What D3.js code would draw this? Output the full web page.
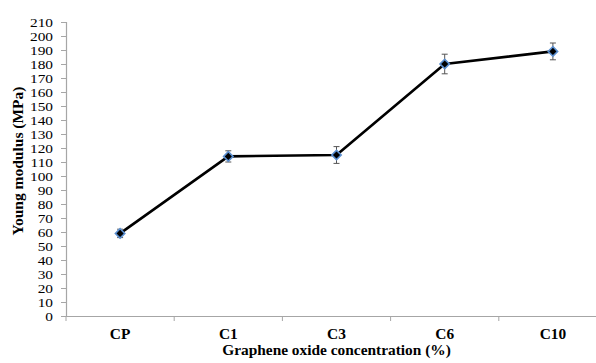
<!DOCTYPE html>
<html>
<head>
<meta charset="utf-8">
<script src="https://cdn.jsdelivr.net/npm/d3@7"></script>
<style>
  html, body { margin: 0; padding: 0; background: #fff; }
  svg { display: block; }
  svg text { font-family: "Liberation Serif", "Times New Roman", serif !important; fill: #000; }
</style>
</head>
<body>
<svg id="chart" width="596" height="363"></svg>
<script>
// Young modulus by graphene oxide concentration
const categories = ["CP", "C1", "C3", "C6", "C10"];
const modulus = [59, 114, 115, 180, 189];
const errors = [3, 4, 6, 7, 6];
const yTicks = d3.range(0, 211, 10);

const svg = d3.select("#chart");
const margin = { left: 66, top: 22, bottom: 47 };
const plotRight = 607;
const H = 363;

const x = d3.scaleBand().domain(categories).range([margin.left, plotRight]);
const y = d3.scaleLinear().domain([0, 210]).range([H - margin.bottom, margin.top]);

const axisColor = "#a6a6a6";

// Y axis (labels slightly widened so the dense ticks stay legible)
const yStretch = 1.22;
const yAxis = svg.append("g")
  .attr("transform", `translate(${margin.left},0)`)
  .call(d3.axisLeft(y).tickValues(yTicks).tickSize(5));
yAxis.select(".domain").attr("stroke", axisColor).attr("stroke-width", 1.2);
yAxis.selectAll(".tick line").attr("stroke", axisColor);
yAxis.selectAll(".tick text")
  .attr("font-size", 12.6)
  .attr("x", -13 / yStretch)
  .attr("transform", `scale(${yStretch},1)`)
  .attr("fill", "#111");

// X axis: ticks at category boundaries
const xStretch = 1.1;
const xAxis = svg.append("g")
  .attr("transform", `translate(0,${y(0)})`)
  .call(d3.axisBottom(x).tickSize(0).tickSizeOuter(0));
xAxis.select(".domain").attr("stroke", axisColor).attr("stroke-width", 1.2);
xAxis.selectAll(".tick text")
  .attr("font-size", 14)
  .attr("font-weight", "bold")
  .attr("y", 339 - y(0))
  .attr("dy", null)
  .attr("transform", `scale(${xStretch},1)`)
  .attr("fill", "#111");
xAxis.selectAll(".boundary")
  .data(categories.map(c => x(c)).concat([plotRight]))
  .join("line")
  .attr("class", "boundary")
  .attr("x1", d => d).attr("x2", d => d)
  .attr("y1", 0).attr("y2", 5)
  .attr("stroke", axisColor);

// Axis titles
svg.append("g")
  .attr("transform", `translate(${(margin.left + plotRight) / 2},355) scale(${xStretch},1)`)
  .append("text")
  .attr("text-anchor", "middle")
  .attr("font-size", 14)
  .attr("font-weight", "bold")
  .text("Graphene oxide concentration (%)");

svg.append("text")
  .attr("transform", "translate(23,161) rotate(-90)")
  .attr("text-anchor", "middle")
  .attr("font-size", 15.5)
  .attr("font-weight", "bold")
  .text("Young modulus (MPa)");

const cx = c => x(c) + x.bandwidth() / 2;
const points = categories.map((c, i) => ({ c, v: modulus[i], e: errors[i] }));

// Connecting line
svg.append("path")
  .datum(points)
  .attr("fill", "none")
  .attr("stroke", "#000")
  .attr("stroke-width", 2.6)
  .attr("stroke-linejoin", "round")
  .attr("d", d3.line().x(d => cx(d.c)).y(d => y(d.v)));

// Error bars
const eb = svg.append("g").attr("stroke", "#555").attr("stroke-width", 1);
eb.selectAll(".stem").data(points).join("line")
  .attr("x1", d => cx(d.c)).attr("x2", d => cx(d.c))
  .attr("y1", d => y(d.v - d.e)).attr("y2", d => y(d.v + d.e));
eb.selectAll(".capTop").data(points).join("line")
  .attr("x1", d => cx(d.c) - 3).attr("x2", d => cx(d.c) + 3)
  .attr("y1", d => y(d.v + d.e)).attr("y2", d => y(d.v + d.e));
eb.selectAll(".capBot").data(points).join("line")
  .attr("x1", d => cx(d.c) - 3).attr("x2", d => cx(d.c) + 3)
  .attr("y1", d => y(d.v - d.e)).attr("y2", d => y(d.v - d.e));

// Diamond markers
const diamond = d3.symbol().type(d3.symbolSquare).size(44);
svg.selectAll(".marker").data(points).join("path")
  .attr("class", "marker")
  .attr("transform", d => `translate(${cx(d.c)},${y(d.v)}) rotate(45)`)
  .attr("d", diamond)
  .attr("fill", "#000")
  .attr("stroke", "#5b8fd0")
  .attr("stroke-width", 1.6);
</script>
</body>
</html>
